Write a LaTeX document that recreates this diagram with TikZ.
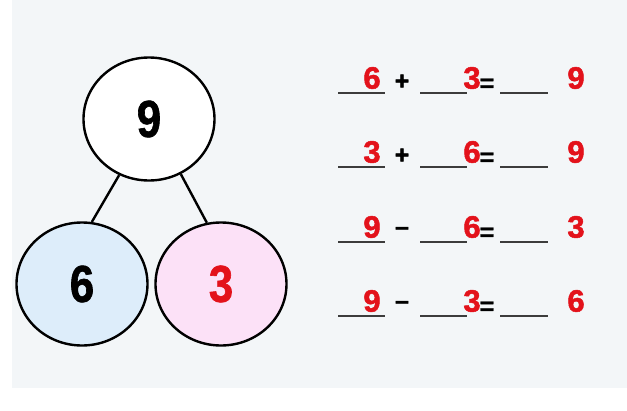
\documentclass[tikz,border=0pt]{standalone}
\usepackage{fontspec}
\setmainfont{Liberation Sans}
\newfontfamily\bondfont[UprightFont={* Bold},FakeStretch=0.84,FakeBold=1.2]{Liberation Sans}
\newfontfamily\factfont[UprightFont={* Bold},FakeBold=1.6]{Liberation Sans}
\usetikzlibrary{shapes.geometric}
\definecolor{BondRed}{HTML}{E3121B}
\definecolor{BondBlue}{HTML}{DDEDFA}
\definecolor{BondPink}{HTML}{FCE1F7}
\definecolor{BondPaper}{HTML}{F3F6F8}
\definecolor{BondRule}{HTML}{3C3C3C}
\begin{document}
\begin{tikzpicture}[x=1pt,y=-1pt,
  part/.style={ellipse,draw=black,line width=2.4pt,fill=white,minimum width=131pt,minimum height=123pt,inner sep=0pt,font=\bondfont\fontsize{52}{52}\selectfont},
  link/.style={line width=2.4pt,draw=black},
  answer/.style={text=BondRed,inner sep=0pt,font=\factfont\fontsize{31}{31}\selectfont},
  sign/.style={inner sep=0pt,font=\factfont\fontsize{25}{25}\selectfont},
  blank/.style={line width=1.8pt,draw=BondRule}
]
  \useasboundingbox (0,0) rectangle (627,410);
  \fill[white] (0,0) rectangle (627,410);
  \fill[BondPaper] (12,0) rectangle (627,388);

  % number bond
  \node[part] (whole) at (149,119) {9};
  \node[part,fill=BondBlue] (left) at (82,284) {6};
  \node[part,fill=BondPink,text=BondRed] (right) at (221,284) {3};
  \draw[link] (whole.242) -- (left.81);
  \draw[link] (whole.300) -- (right.103);

  % facts
  \foreach \row/\a/\op/\b/\c [count=\i] in {93/6/+/3/9,167/3/+/6/9,242/9/–/6/3,316/9/–/3/6} {
    \draw[blank] (338,\row) -- (385,\row);
    \draw[blank] (420,\row) -- (467,\row);
    \draw[blank] (500,\row) -- (548,\row);
    \node[answer] (a\i) at (372,\row-15) {\a};
    \node[sign] (op\i) at (402,\row-11) {\op};
    \node[answer] (b\i) at (472,\row-15) {\b};
    \node[sign] (eq\i) at (487,\row-8) {=};
    \node[answer] (c\i) at (576,\row-15) {\c};
  }
\end{tikzpicture}
\end{document}
